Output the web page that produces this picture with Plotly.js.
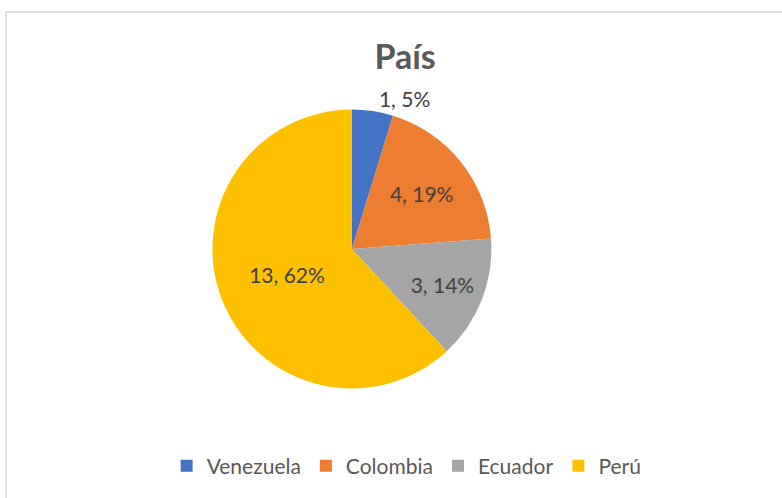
<!DOCTYPE html>
<html>
<head>
<meta charset="utf-8">
<script src="https://cdn.plot.ly/plotly-3.0.1.min.js"></script>
<style>html,body{margin:0;padding:0;background:#fff;}#chart{width:782px;height:498px;}</style>
</head>
<body>
<div id="chart"></div>
<script>
const categories = ["Venezuela", "Colombia", "Ecuador", "Perú"];
const values = [1, 4, 3, 13];
const colors = ["#4472C4", "#ED7D31", "#A5A5A5", "#FFC000"];
const textPositions = ["outside", "inside", "inside", "inside"];

const trace = {
  type: "pie",
  labels: categories,
  values: values,
  sort: false,
  direction: "clockwise",
  rotation: 0,
  marker: { colors: colors, line: { color: "#ffffff", width: 0 } },
  texttemplate: "%{value}, %{percent:.0%}",
  textposition: textPositions,
  insidetextorientation: "horizontal",
  textfont: { family: "Lato, 'Open Sans', sans-serif", size: 21, color: "#404040" },
  outsidetextfont: { family: "Lato, 'Open Sans', sans-serif", size: 21, color: "#404040" },
  domain: { x: [0.18, 0.72], y: [0.22, 0.78] },
  automargin: false,
  hoverinfo: "label+value+percent"
};

const layout = {
  width: 782,
  height: 498,
  margin: { l: 0, r: 0, t: 0, b: 0 },
  paper_bgcolor: "#ffffff",
  title: {
    text: "<b>País</b>",
    font: { family: "Lato, 'Open Sans', sans-serif", size: 34, color: "#595959" },
    x: 0.518, xanchor: "center", xref: "paper",
    y: 0.886, yanchor: "middle", yref: "paper"
  },
  showlegend: true,
  legend: {
    orientation: "h",
    x: 0.52, xanchor: "center",
    y: 0.064, yanchor: "middle",
    font: { family: "Lato, 'Open Sans', sans-serif", size: 21, color: "#595959" },
    traceorder: "normal",
    itemwidth: 30
  },
  shapes: [{
    type: "rect", xref: "paper", yref: "paper",
    x0: 6/782, x1: 1.05, y0: -0.05, y1: 1 - 12/498,
    line: { color: "#D9D9D9", width: 1.5 }, fillcolor: "rgba(0,0,0,0)", layer: "below"
  }]
};

Plotly.newPlot("chart", [trace], layout, { displayModeBar: false, staticPlot: true });
</script>
</body>
</html>
